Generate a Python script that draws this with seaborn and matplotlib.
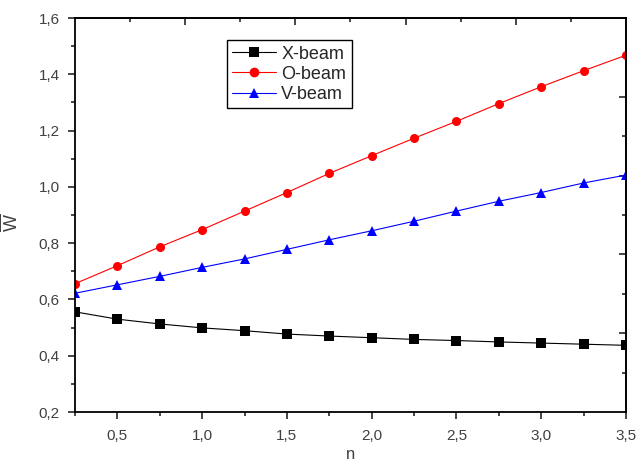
#!/usr/bin/env python3

import matplotlib
matplotlib.use("Agg")
import matplotlib.pyplot as plt
import matplotlib.ticker as mticker
import numpy as np
import pandas as pd
import seaborn as sns

n_values = [0.25, 0.5, 0.75, 1.0, 1.25, 1.5, 1.75, 2.0, 2.25, 2.5, 2.75, 3.0, 3.25, 3.5]
x_beam = [0.556, 0.530, 0.513, 0.499, 0.489, 0.477, 0.470, 0.464, 0.458, 0.454, 0.449, 0.445, 0.441, 0.437]
o_beam = [0.656, 0.720, 0.787, 0.848, 0.914, 0.980, 1.048, 1.111, 1.173, 1.233, 1.296, 1.356, 1.413, 1.468]
v_beam = [0.622, 0.652, 0.682, 0.714, 0.744, 0.778, 0.812, 0.844, 0.878, 0.914, 0.949, 0.980, 1.014, 1.042]
series_names = ["X-beam", "O-beam", "V-beam"]
series_colors = ["black", "red", "blue"]
series_markers = ["s", "o", "^"]


def comma_fmt(v, pos):
    return f"{v:.1f}".replace(".", ",")


def plot_beams(output_path):
    sns.set_style("ticks")
    plt.rcParams["font.family"] = ["Liberation Sans", "DejaVu Sans"]
    plt.rcParams["mathtext.fontset"] = "custom"
    plt.rcParams["mathtext.rm"] = "Liberation Sans"

    df = pd.DataFrame({
        "n": n_values * 3,
        "W": x_beam + o_beam + v_beam,
        "beam": [name for name in series_names for _ in n_values],
    })

    fig = plt.figure(figsize=(6.43, 4.69), dpi=100)
    ax = fig.add_axes([0.1166, 0.1215, 0.857, 0.840])

    sns.lineplot(data=df, x="n", y="W", hue="beam", style="beam",
                 palette=dict(zip(series_names, series_colors)),
                 markers=dict(zip(series_names, series_markers)),
                 dashes=False, markersize=6.5, markeredgewidth=0,
                 linewidth=0.8, ax=ax)

    xlim = (0.25, 3.5)
    ylim = (0.2, 1.6)
    ax.set_xlim(*xlim)
    ax.set_ylim(*ylim)
    ax.xaxis.set_major_locator(mticker.MultipleLocator(0.5))
    ax.xaxis.set_minor_locator(mticker.MultipleLocator(0.25))
    ax.yaxis.set_major_locator(mticker.MultipleLocator(0.2))
    ax.yaxis.set_minor_locator(mticker.MultipleLocator(0.1))
    ax.xaxis.set_major_formatter(mticker.FuncFormatter(comma_fmt))
    ax.yaxis.set_major_formatter(mticker.FuncFormatter(comma_fmt))

    for side in ["left", "right", "top", "bottom"]:
        ax.spines[side].set_visible(True)
        ax.spines[side].set_linewidth(1.3)
        ax.spines[side].set_color("black")

    ax.tick_params(which="major", direction="out", length=5, width=1.2,
                   labelsize=11, labelcolor="#404040")
    ax.tick_params(which="minor", direction="out", length=3, width=1.2)
    ax.tick_params(axis="x", which="major", pad=7)
    ax.tick_params(axis="y", which="major", pad=6)
    ax.tick_params(axis="x", which="both", top=False)
    ax.tick_params(axis="y", which="both", right=False)

    # mirrored top/right axes: inward ticks, ten divisions each
    top_ticks = np.linspace(xlim[0], xlim[1], 11)[1:-1]
    top = ax.secondary_xaxis("top")
    top.set_xticks(top_ticks[1::2])
    top.set_xticks(top_ticks[0::2], minor=True)
    top.tick_params(which="major", direction="in", length=5, width=1.2, labeltop=False)
    top.tick_params(which="minor", direction="in", length=3, width=1.2)
    top.spines["top"].set_linewidth(1.3)

    right_ticks = np.linspace(ylim[0], ylim[1], 11)[1:-1]
    right = ax.secondary_yaxis("right")
    right.set_yticks(right_ticks[1::2])
    right.set_yticks(right_ticks[0::2], minor=True)
    right.tick_params(which="major", direction="in", length=5, width=1.2, labelright=False)
    right.tick_params(which="minor", direction="in", length=3, width=1.2)
    right.spines["right"].set_linewidth(1.3)

    ax.set_xlabel("n", fontsize=12, color="#404040")
    ax.set_ylabel(r"$\overline{\mathrm{W}}$", fontsize=13, color="#404040")
    ax.xaxis.set_label_coords(0.5, -0.09)
    ax.yaxis.set_label_coords(-0.098, 0.48)

    handles, labels = ax.get_legend_handles_labels()
    leg = ax.legend(handles, labels, loc="upper left", bbox_to_anchor=(0.276, 0.944),
                    borderaxespad=0, fancybox=False, framealpha=1, edgecolor="black",
                    fontsize=13, handlelength=2.4, handletextpad=0.3,
                    labelspacing=0.18, borderpad=0.3)
    leg.get_frame().set_linewidth(1.0)
    for h in leg.legend_handles:
        h.set_markersize(7)

    fig.savefig(output_path, dpi=100)
    plt.close(fig)


if __name__ == "__main__":
    plot_beams("out.png")
